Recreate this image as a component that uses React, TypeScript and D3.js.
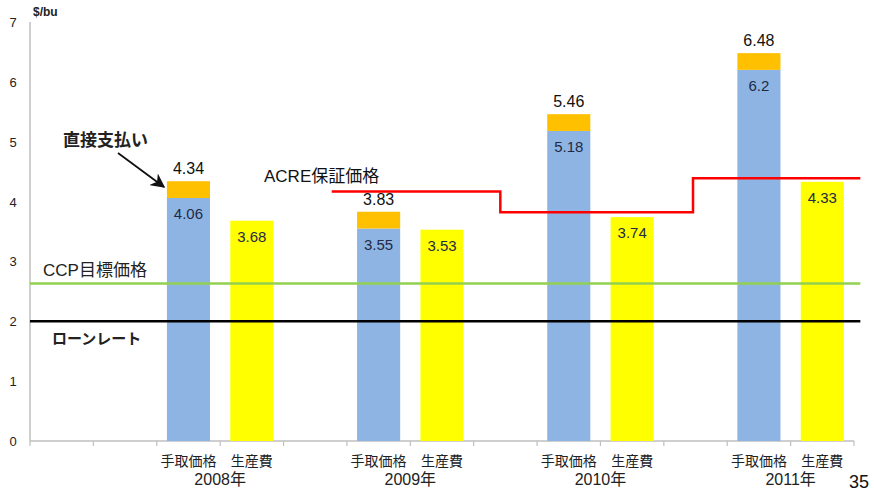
import React from "react";
import * as d3 from "d3";

const slotLabels = ["", "", "手取価格", "生産費", "", "手取価格", "生産費", "", "手取価格", "生産費", "", "手取価格", "生産費"];
const years = ["2008年", "2009年", "2010年", "2011年"];
const yearSlots = [2, 5, 8, 11];
const receivedPrice = [4.06, 3.55, 5.18, 6.2];
const totalWithDirect = [4.34, 3.83, 5.46, 6.48];
const productionCost = [3.68, 3.53, 3.74, 4.33];
const acreValues = [4.17, 3.82, 4.39];
const acreStarts = [4.76, 7.42, 10.46];
const acreEnd = 13.1;
const ccpTarget = 2.63;
const loanRate = 2.0;
const yTicks = [0, 1, 2, 3, 4, 5, 6, 7];

const W = 874, H = 493;
const FONT = "'Liberation Sans', Arial, 'Noto Sans CJK JP', sans-serif";
const JFONT = "'Noto Sans CJK JP', 'Liberation Sans', sans-serif";

export default function App() {
  const x = d3.scaleBand<number>().domain(d3.range(slotLabels.length)).range([30, 854]).paddingInner(0.32).paddingOuter(0.16);
  const slotX = d3.scaleLinear().domain([0, slotLabels.length]).range([30, 854]);
  const y = d3.scaleLinear().domain([0, 7]).range([441, 22]);
  const bw = x.bandwidth();

  const acrePts: [number, number][] = [];
  acreValues.forEach((v, i) => {
    const x0 = slotX(acreStarts[i]);
    const x1 = i + 1 < acreStarts.length ? slotX(acreStarts[i + 1]) : slotX(acreEnd);
    acrePts.push([x0, y(v)], [x1, y(v)]);
  });
  const line = d3.line();

  return (
    <svg width={W} height={H} style={{ position: "absolute", left: 0, top: 0, background: "#fff" }}>
      <defs>
        <marker id="arr" viewBox="0 0 10 10" refX="9" refY="5" markerWidth="8" markerHeight="8" orient="auto">
          <path d="M0,0 L10,5 L0,10 L3,5 Z" fill="#111" />
        </marker>
      </defs>
      {/* axes */}
      <line x1={30} x2={30} y1={y(7)} y2={y(0)} stroke="#bfbfbf" strokeWidth={1.5} />
      <line x1={30} x2={854} y1={y(0)} y2={y(0)} stroke="#bfbfbf" strokeWidth={1.5} />
      {d3.range(slotLabels.length + 1).map((i) => (
        <line key={i} x1={slotX(i)} x2={slotX(i)} y1={y(0)} y2={y(0) + 5} stroke="#bfbfbf" strokeWidth={1.2} />
      ))}
      {yTicks.map((t) => (
        <text key={t} x={13} y={y(t) + 5} fontSize={13} fontFamily={FONT} textAnchor="middle" fill="#222">{t}</text>
      ))}
      <text x={33} y={16} fontSize={12} fontWeight="bold" fontFamily={FONT} fill="#222">$/bu</text>

      {/* bars */}
      {yearSlots.map((s, i) => (
        <g key={"b" + i}>
          <rect x={x(s)} y={y(receivedPrice[i])} width={bw} height={y(0) - y(receivedPrice[i])} fill="#8EB4E3" />
          <rect x={x(s)} y={y(totalWithDirect[i])} width={bw} height={y(receivedPrice[i]) - y(totalWithDirect[i])} fill="#FFC000" />
          <rect x={x(s + 1)} y={y(productionCost[i])} width={bw} height={y(0) - y(productionCost[i])} fill="#FFFF00" />
          <text x={x(s)! + bw / 2} y={y(totalWithDirect[i]) - 7} fontSize={16} fontFamily={FONT} textAnchor="middle" fill="#111">{totalWithDirect[i].toFixed(2)}</text>
          <text x={x(s)! + bw / 2} y={y(receivedPrice[i]) + 21} fontSize={15} fontFamily={FONT} textAnchor="middle" fill="#1f2a44">{String(receivedPrice[i])}</text>
          <text x={x(s + 1)! + bw / 2} y={y(productionCost[i]) + 21} fontSize={15} fontFamily={FONT} textAnchor="middle" fill="#1f2a44">{productionCost[i].toFixed(2)}</text>
        </g>
      ))}

      {/* reference lines */}
      <line x1={30} x2={slotX(acreEnd)} y1={y(ccpTarget)} y2={y(ccpTarget)} stroke="#92D050" strokeWidth={2.5} />
      <line x1={30} x2={slotX(acreEnd)} y1={y(loanRate)} y2={y(loanRate)} stroke="#000" strokeWidth={2.5} />
      <path d={line(acrePts) || ""} fill="none" stroke="#FF0000" strokeWidth={2.5} />

      {/* category labels */}
      {slotLabels.map((l, i) => l ? (
        <text key={"c" + i} x={x(i)! + bw / 2} y={466} fontSize={14} fontFamily={JFONT} textAnchor="middle" fill="#222">{l}</text>
      ) : null)}
      {yearSlots.map((s, i) => (
        <text key={"y" + i} x={slotX(s + 1)} y={485} fontSize={16} fontFamily={FONT} textAnchor="middle" fill="#222">{years[i]}</text>
      ))}

      {/* annotations */}
      <text x={63} y={146} fontSize={17} fontWeight="bold" fontFamily={JFONT} fill="#222">直接支払い</text>
      <line x1={118} y1={153} x2={164} y2={187} stroke="#111" strokeWidth={1.8} markerEnd="url(#arr)" />
      <text x={264} y={182} fontSize={17} fontFamily={FONT} fill="#111">ACRE保証価格</text>
      <text x={43} y={276} fontSize={17} fontFamily={FONT} fill="#222">CCP目標価格</text>
      <text x={52} y={344} fontSize={15} fontWeight="bold" fontFamily={JFONT} fill="#222">ローンレート</text>
      <text x={849} y={488} fontSize={18} fontFamily={FONT} fill="#111">35</text>
    </svg>
  );
}
